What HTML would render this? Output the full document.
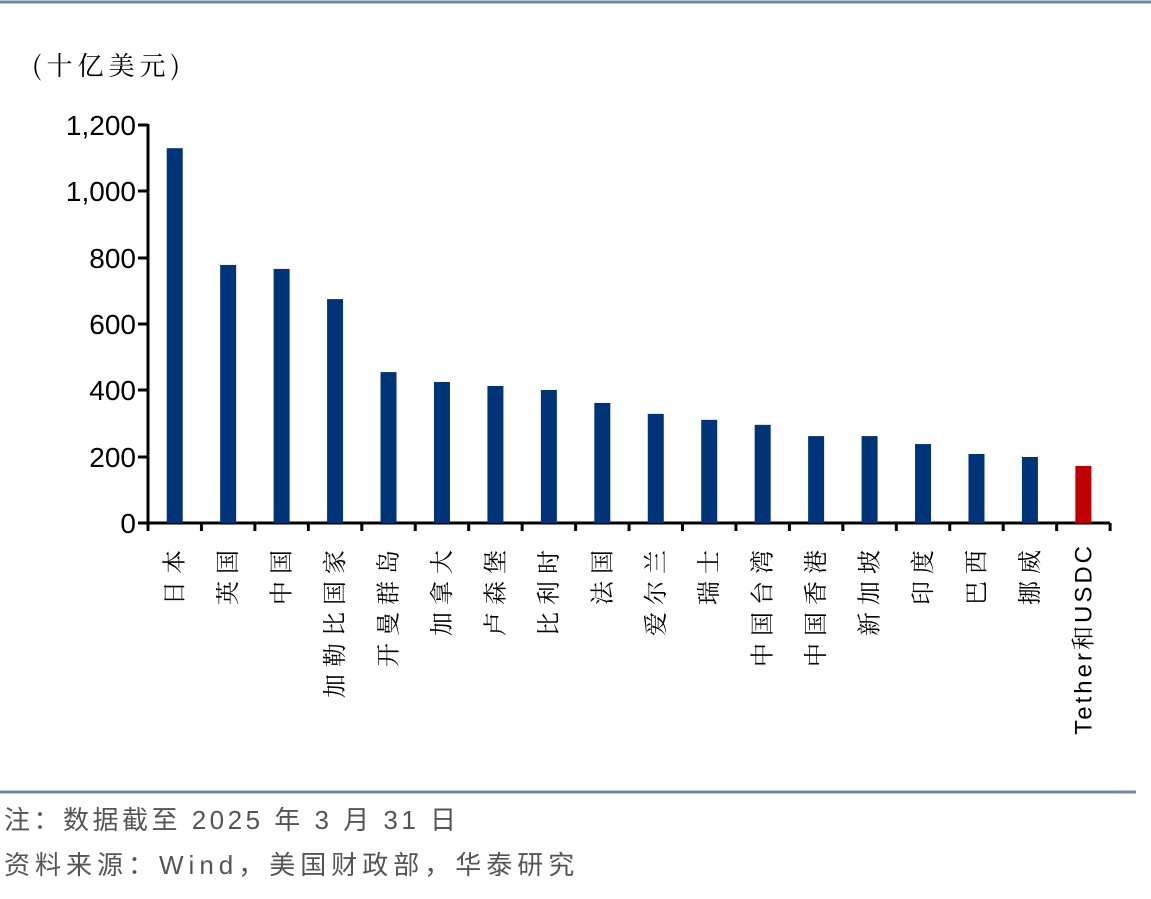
<!DOCTYPE html>
<html><head><meta charset="utf-8"><style>
html,body{margin:0;padding:0;background:#fff;}
svg{display:block;}
</style></head><body>
<svg width="1151" height="899" xmlns="http://www.w3.org/2000/svg">
<line x1="0" y1="2" x2="1151" y2="2" stroke="#6f88a8" stroke-width="3"/>
<line x1="0" y1="792" x2="1136" y2="792" stroke="#6f88a8" stroke-width="3"/>
<text x="32" y="75" font-family="'Noto Serif CJK SC','Liberation Serif',serif" font-size="26" letter-spacing="5" fill="#000">(十亿美元)</text>
<g font-family="'Liberation Sans',sans-serif" font-size="28" fill="#000" text-anchor="end">
<text x="136" y="533">0</text>
<text x="136" y="467">200</text>
<text x="136" y="400">400</text>
<text x="136" y="334">600</text>
<text x="136" y="268">800</text>
<text x="136" y="201">1,000</text>
<text x="136" y="135">1,200</text>
</g>
<g stroke="#000" stroke-width="3">
<line x1="148" y1="124" x2="148" y2="524"/>
<line x1="138" y1="125" x2="148" y2="125"/>
<line x1="138" y1="191" x2="148" y2="191"/>
<line x1="138" y1="258" x2="148" y2="258"/>
<line x1="138" y1="324" x2="148" y2="324"/>
<line x1="138" y1="390" x2="148" y2="390"/>
<line x1="138" y1="457" x2="148" y2="457"/>
<line x1="138" y1="523" x2="1110" y2="523"/>
</g>
<g id="bars"></g>
<g id="ticks" stroke="#000" stroke-width="3"></g>
<g id="labels" font-family="'Liberation Sans','Noto Serif CJK SC',serif" font-size="24" fill="#000"></g>
<text x="4" y="829" font-family="'Liberation Sans','Noto Sans CJK SC',sans-serif" font-size="26" letter-spacing="3.5" fill="#555">注：数据截至 2025 年 3 月 31 日</text>
<text x="4" y="874" font-family="'Liberation Sans','Noto Sans CJK SC',sans-serif" font-size="26" letter-spacing="5" fill="#555">资料来源：Wind，美国财政部，华泰研究</text>
<script>
(function(){
var names=["日本","英国","中国","加勒比国家","开曼群岛","加拿大","卢森堡","比利时","法国","爱尔兰","瑞士","中国台湾","中国香港","新加坡","印度","巴西","挪威","Tether和USDC"];
var vals=[1130,778,766,675,455,425,413,401,362,329,311,296,262,262,238,208,199,172];
var ns="http://www.w3.org/2000/svg",step=53.45,x0=148;
var b=document.getElementById("bars"),t=document.getElementById("ticks"),l=document.getElementById("labels");
for(var i=0;i<18;i++){
 var cx=x0+step*(i+0.5),yt=523-vals[i]*0.3317;
 var r=document.createElementNS(ns,"rect");
 r.setAttribute("x",cx-8);r.setAttribute("y",yt);r.setAttribute("width",16);r.setAttribute("height",523-yt);
 r.setAttribute("fill",i==17?"#c00000":"#003478");b.appendChild(r);
 var k=document.createElementNS(ns,"line");
 var tx=x0+step*i;k.setAttribute("x1",tx);k.setAttribute("x2",tx);k.setAttribute("y1",523);k.setAttribute("y2",531);t.appendChild(k);
 var tt=document.createElementNS(ns,"text");
 tt.setAttribute("transform","translate("+(cx+8)+",543) rotate(-90)");
 tt.setAttribute("text-anchor","end");
 tt.setAttribute("letter-spacing",i==17?"3":"7");
 tt.textContent=names[i];l.appendChild(tt);
}
var k=document.createElementNS(ns,"line");k.setAttribute("x1",x0+step*18);k.setAttribute("x2",x0+step*18);k.setAttribute("y1",523);k.setAttribute("y2",531);t.appendChild(k);
})();
</script>
</svg>
</body></html>
